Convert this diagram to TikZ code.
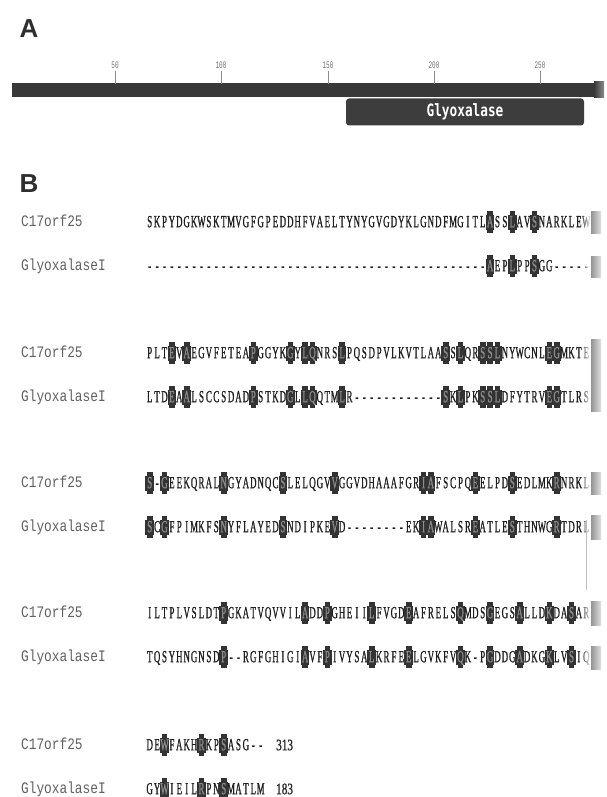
\documentclass[tikz,border=0pt]{standalone}
\usepackage{fontspec}
\setmainfont{Liberation Serif}
\newfontfamily\seqfont[FakeStretch=0.52, FakeBold=0.9]{Liberation Serif}
\newfontfamily\numfont[FakeStretch=0.7, FakeBold=0.9]{Liberation Serif}
\newfontfamily\tagfont[FakeStretch=0.8]{Liberation Mono}
\newfontfamily\panelfont{Liberation Sans}
\newfontfamily\rulerfont[FakeStretch=0.6]{Liberation Mono}
\newfontfamily\boxfont[FakeStretch=0.75]{DejaVu Sans Mono}
\usetikzlibrary{fadings}

\tikzfading[name=fadein, left color=transparent!100, right color=transparent!0]

\tikzset{
  panel/.style={inner sep=0pt, font=\panelfont\bfseries\fontsize{26}{26}\selectfont, text=black!82},
  ruler/.style={inner sep=0pt, font=\rulerfont\fontsize{10}{10}\selectfont, text=black!55},
  tickline/.style={draw=black!45, line width=0.6pt},
  domainbox/.style={fill=black!76, rounded corners=3pt, minimum width=238pt, minimum height=27pt,
    inner sep=0pt, text=white, font=\boxfont\bfseries\fontsize{17}{17}\selectfont},
  seqtag/.style={inner sep=0pt, anchor=base west, font=\tagfont\fontsize{16}{16}\selectfont, text=black!62},
  rescode/.style={inner sep=0pt, anchor=base, font=\seqfont\fontsize{17}{17}\selectfont, text=black!88},
  reshit/.style={rescode, text=black!45},
  hitcell/.style={fill=black!80},
  seqlen/.style={inner sep=0pt, anchor=base west, font=\numfont\fontsize{16}{16}\selectfont, text=black!85},
}

% One alignment row: #1 = row height, #2 = residues (lower case = identical, shaded)
\ExplSyntaxOn
\int_new:N \l_aln_col_int
\tl_new:N \l_aln_x_tl
\cs_new_protected:Npn \aln_setx:
  { \tl_set:Nx \l_aln_x_tl { \fp_eval:n { 146 + ( \l_aln_col_int - 0.5 ) * 7.4 } } }
\NewDocumentCommand \seqrow { m m }
  {
    \int_zero:N \l_aln_col_int
    \tl_map_inline:nn { #2 }
      {
        \int_incr:N \l_aln_col_int
        \str_if_in:nnT { abcdefghijklmnopqrstuvwxyz } { ##1 }
          {
            \aln_setx:
            \path [ hitcell ] ( \l_aln_x_tl , #1 ) ++ ( -4.3 , -7.5 ) rectangle ++ ( 8.6 , 15 ) ;
            \path [ hitcell ] ( \l_aln_x_tl , #1 ) ++ ( -2.8 , -11 ) rectangle ++ ( 5.6 , 22 ) ;
          }
      }
    \int_zero:N \l_aln_col_int
    \tl_map_inline:nn { #2 }
      {
        \int_incr:N \l_aln_col_int
        \aln_setx:
        \str_if_in:nnTF { abcdefghijklmnopqrstuvwxyz } { ##1 }
          { \node [ reshit ] at ( \l_aln_x_tl , #1 + 5.2 ) { \uppercase { ##1 } } ; }
          { \node [ rescode ] at ( \l_aln_x_tl , #1 + 5.2 ) { ##1 } ; }
      }
  }
\ExplSyntaxOff

% grey scroll-bar edge that cuts the rows on the right
\newcommand\edgestrip[2]{%
  \fill[white, path fading=fadein] (580,#1) rectangle (591,#2);
  \shade[left color=black!42, right color=black!12] (591,#1) rectangle (601,#2);
}

\begin{document}
\begin{tikzpicture}[x=1pt,y=-1pt]
\useasboundingbox (0,0) rectangle (606,797);
\fill[white] (0,0) rectangle (606,797);

% ---------- A: domain map ----------
\node[panel] (pA) at (29,29) {A};

\fill[black!78] (12,83) rectangle (594,97);
\shade[left color=black!78, right color=black!45] (594,82) rectangle (604,98);

\foreach \x/\lab [count=\i] in {115/50,221/100,328/150,434/200,540/250}{
  \node[ruler] (tick\i) at (\x,65) {\lab};
  \draw[tickline] (tick\i.south) ++(0,2) -- (\x,84);
}

\node[domainbox] (dom) at (465,112) {Glyoxalase};

% ---------- B: alignment ----------
\node[panel] (pB) at (29,184) {B};

% block 1
\node[seqtag] (t1a) at (21,226.6) {C17orf25};
\node[seqtag] (t1b) at (21,270.6) {GlyoxalaseI};
\seqrow{222}{SKPYDGKWSKTMVGFGPEDDHFVAELTYNYGVGDYKLGNDFMGITLaSSlAVsNARKLEW}
\seqrow{266}{----------------------------------------------aEPlPPsGG-----}
\edgestrip{211}{233}
\edgestrip{256}{277}

% block 2
\node[seqtag] (t2a) at (21,357.6) {C17orf25};
\node[seqtag] (t2b) at (21,401.6) {GlyoxalaseI};
\seqrow{353}{PLTeVaEGVFETEApGGYKgYlqNRSlPQSDPVLKVTLAAsSlQRsslNYWCNLegMKTE}
\seqrow{397}{LTDeAaLSCCSDADpSTKDgLlqQTMlR------------sKlPKsslDFYTRVegTLRS}
\edgestrip{339}{411}

% block 3
\node[seqtag] (t3a) at (21,487.6) {C17orf25};
\node[seqtag] (t3b) at (21,531.6) {GlyoxalaseI};
\seqrow{483}{s-gEEKQRALnGYADNQCsLELQGVvGGVDHAAAFGRiaFSCPQeELPDsEDLMKrNRKL}
\seqrow{527}{sCgFPIMKFSnYFLAYEDsNDIPKEvD--------EKiaWALSReATLEsTHNWGrTDRL}
\edgestrip{472}{494}
\edgestrip{515}{539}
\draw[black!25, line width=0.5pt] (586,520) -- (586,590);

% block 4
\node[seqtag] (t4a) at (21,617.6) {C17orf25};
\node[seqtag] (t4b) at (21,661.6) {GlyoxalaseI};
\seqrow{613}{ILTPLVSLDTpGKATVQVVILaDDpGHEIIlFVGDeAFRELSqMDSgEGSaLLDkDAsAR}
\seqrow{657}{TQSYHNGNSDp--RGFGHIGIaVFpIVYSAlKRFEeLGVKFVqK-PgDDGaDKGkLVsIQ}
\edgestrip{601}{625}
\edgestrip{646}{669}

% block 5
\node[seqtag] (t5a) at (21,749.6) {C17orf25};
\node[seqtag] (t5b) at (21,793.6) {GlyoxalaseI};
\seqrow{745}{DEwFAKHrKPsASG--}
\seqrow{789}{GYwIEILrPNsMATLM}
\node[seqlen] (n5a) at (276,750.2) {313};
\node[seqlen] (n5b) at (276,794.2) {183};
\end{tikzpicture}
\end{document}
